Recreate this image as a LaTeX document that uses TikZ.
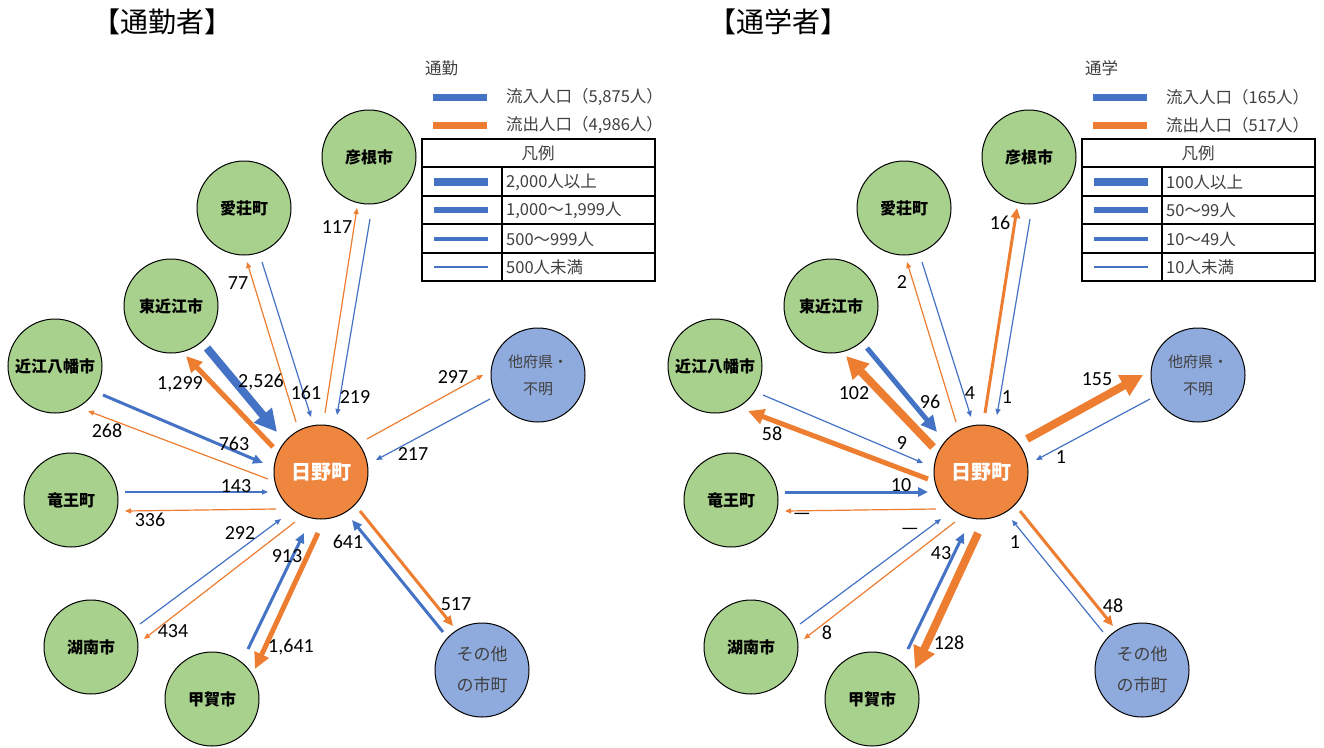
\documentclass[tikz,border=0pt]{standalone}
\usepackage{fontspec}
\setmainfont{Carlito}
\newfontfamily\jp{Noto Sans CJK JP}
\usetikzlibrary{arrows.meta,calc}

\definecolor{inblue}{HTML}{4472C4}
\definecolor{outorange}{HTML}{ED7D31}
\definecolor{towngreen}{HTML}{A9D18E}
\definecolor{farblue}{HTML}{8FAADC}
\definecolor{hinoorange}{HTML}{EF8640}

% circles of one panel, #1 = name prefix
\newcommand\townring[1]{%
  \node[hino] (#1hino) at (321,472) {日野町};
  \node[town] (#1hik) at (369,157) {彦根市};
  \node[town] (#1ais) at (244,208) {愛荘町};
  \node[town] (#1hig) at (171,306) {東近江市};
  \node[town] (#1omi) at (55,366) {近江八幡市};
  \node[town] (#1ryu) at (71,500) {竜王町};
  \node[town] (#1kon) at (91,647) {湖南市};
  \node[town] (#1kok) at (212,699) {甲賀市};
  \node[far, font=\jp\fontsize{17}{31}\selectfont] (#1son) at (482,670) {その他\\の市町};
  \node[far] (#1taf) at (538,375) {他府県・\\不明};
}

% legend of one panel
\newcommand\flowlegend[8]{%
  \node[legtext] (#1title) at (425,68) {#2};
  \draw[inblue, line width=7pt] (433,97) -- (487,97);
  \node[legtext] (#1in) at (506,97) {#3};
  \draw[outorange, line width=7pt] (433,125) -- (487,125);
  \node[legtext] (#1out) at (506,125) {#4};
  \draw[line width=1.2pt] (422,139) rectangle (655,281)
    (422,167) -- (655,167) (422,196) -- (655,196)
    (422,224) -- (655,224) (422,253) -- (655,253) (502,167) -- (502,281);
  \node[legtext, anchor=center] (#1head) at (538,153) {凡例};
  \draw[inblue, line width=7.5pt] (434,182) -- (488,182);
  \node[legtext] (#1r1) at (506,182) {#5};
  \draw[inblue, line width=5.5pt] (434,210) -- (488,210);
  \node[legtext] (#1r2) at (506,210) {#6};
  \draw[inblue, line width=3.3pt] (434,239) -- (488,239);
  \node[legtext] (#1r3) at (506,239) {#7};
  \draw[inblue, line width=1.2pt] (434,267) -- (488,267);
  \node[legtext] (#1r4) at (506,267) {#8};
}

\begin{document}
\begin{tikzpicture}[x=1pt, y=-1pt,
    town/.style = {shape=circle, draw, line width=1pt, fill=towngreen,
      minimum size=94pt, inner sep=0pt,
      font=\jp\bfseries\fontsize{16}{19}\selectfont},
    far/.style = {shape=circle, draw, line width=1pt, fill=farblue,
      minimum size=94pt, inner sep=0pt, align=center, text=black!75,
      font=\jp\fontsize{15}{27}\selectfont},
    hino/.style = {shape=circle, draw, line width=1pt, fill=hinoorange,
      minimum size=94pt, inner sep=0pt, text=white,
      font=\jp\bfseries\fontsize{20}{24}\selectfont},
    num/.style = {text=black, inner sep=0pt, font=\fontsize{20}{24}\selectfont},
    legtext/.style = {anchor=west, inner sep=0pt, text=black!75,
      font=\jp\fontsize{16.5}{19}\selectfont},
    heading/.style = {inner sep=0pt, font=\jp\fontsize{28}{32}\selectfont},
    b1/.style = {inblue, line width=1.2pt, -{Triangle[length=6pt,width=5pt]}},
    b2/.style = {inblue, line width=3pt, -{Triangle[length=10pt,width=9pt]}},
    b3/.style = {inblue, line width=5pt, -{Triangle[length=16pt,width=15pt]}},
    b4/.style = {inblue, line width=8pt, -{Triangle[length=22pt,width=22pt]}},
    o1/.style = {outorange, line width=1.2pt, -{Triangle[length=6pt,width=5pt]}},
    o2/.style = {outorange, line width=3pt, -{Triangle[length=10pt,width=9pt]}},
    o3/.style = {outorange, line width=5pt, -{Triangle[length=16pt,width=15pt]}},
    o4/.style = {outorange, line width=8pt, -{Triangle[length=22pt,width=22pt]}}]
  \useasboundingbox[fill=white] (0,0) rectangle (1324,747);

  \node[heading] (Lheading) at (162,22) {【通勤者】};
  \node[heading] (Rheading) at (778,22) {【通学者】};

  % commuters
  \begin{scope}
    \townring{L}
    \draw[o1] ($(Lhino)+(4,-59)$) -- ($(Lhik)+(-12,51)$) node[num] (Lhik-out) at (337,227) {117};
    \draw[b1] ($(Lhik)+(1,62)$) -- ($(Lhino)+(16,-57)$) node[num] (Lhik-in) at (355,397) {219};
    \draw[o1] ($(Lhino)+(-25,-50)$) -- ($(Lais)+(3,54)$) node[num] (Lais-out) at (238,283) {77};
    \draw[b1] ($(Lais)+(18,54)$) -- ($(Lhino)+(-10,-55)$) node[num] (Lais-in) at (306,393) {161};
    \draw[b4] ($(Lhig)+(36,42)$) -- ($(Lhino)+(-44,-40)$) node[num] (Lhig-in) at (261,382) {2,526};
    \draw[o3] ($(Lhino)+(-48,-25)$) -- ($(Lhig)+(15,50)$) node[num] (Lhig-out) at (180,384) {1,299};
    \draw[b2] ($(Lomi)+(48,29)$) -- ($(Lhino)+(-58,-9)$) node[num] (Lomi-in) at (234,444) {763};
    \draw[o1] ($(Lhino)+(-53,7)$) -- ($(Lomi)+(33,45)$) node[num] (Lomi-out) at (107,431) {268};
    \draw[b1] ($(Lryu)+(54,-8)$) -- ($(Lhino)+(-53,20)$) node[num] (Lryu-in) at (236,486) {143};
    \draw[o1] ($(Lhino)+(-45,37)$) -- ($(Lryu)+(54,11)$) node[num] (Lryu-out) at (150,520) {336};
    \draw[b1] ($(Lkon)+(49,-23)$) -- ($(Lhino)+(-40,47)$) node[num] (Lkon-in) at (240,533) {292};
    \draw[o1] ($(Lhino)+(-26,50)$) -- ($(Lkon)+(53,-8)$) node[num] (Lkon-out) at (173,631) {434};
    \draw[b2] ($(Lkok)+(36,-50)$) -- ($(Lhino)+(-17,61)$) node[num] (Lkok-in) at (287,556) {913};
    \draw[o3] ($(Lhino)+(-3,61)$) -- ($(Lkok)+(43,-30)$) node[num] (Lkok-out) at (291,647) {1,641};
    \draw[b2] ($(Lson)+(-39,-38)$) -- ($(Lhino)+(31,48)$) node[num] (Lson-in) at (348,542) {641};
    \draw[o2] ($(Lhino)+(39,39)$) -- ($(Lson)+(-29,-44)$) node[num] (Lson-out) at (456,604) {517};
    \draw[o1] ($(Lhino)+(46,-33)$) -- ($(Ltaf)+(-55,0)$) node[num] (Ltaf-out) at (453,377) {297};
    \draw[b1] ($(Ltaf)+(-48,24)$) -- ($(Lhino)+(55,-12)$) node[num] (Ltaf-in) at (413,454) {217};
    \flowlegend{L}{通勤}{流入人口（5,875人）}{流出人口（4,986人）}%
      {2,000人以上}{1,000～1,999人}{500～999人}{500人未満}
  \end{scope}

  % students
  \begin{scope}[xshift=660pt]
    \townring{R}
    \draw[o2] ($(Rhino)+(4,-59)$) -- ($(Rhik)+(-12,51)$) node[num] (Rhik-out) at (340,223) {16};
    \draw[b1] ($(Rhik)+(1,62)$) -- ($(Rhino)+(16,-57)$) node[num] (Rhik-in) at (347,397) {1};
    \draw[o1] ($(Rhino)+(-25,-50)$) -- ($(Rais)+(3,54)$) node[num] (Rais-out) at (242,282) {2};
    \draw[b1] ($(Rais)+(18,54)$) -- ($(Rhino)+(-10,-55)$) node[num] (Rais-in) at (310,393) {4};
    \draw[b3] ($(Rhig)+(36,42)$) -- ($(Rhino)+(-44,-40)$) node[num] (Rhig-in) at (270,402) {96};
    \draw[o4] ($(Rhino)+(-48,-25)$) -- ($(Rhig)+(15,50)$) node[num] (Rhig-out) at (194,393) {102};
    \draw[b1] ($(Romi)+(48,29)$) -- ($(Rhino)+(-58,-9)$) node[num] (Romi-in) at (242,443) {9};
    \draw[o3] ($(Rhino)+(-53,7)$) -- ($(Romi)+(33,45)$) node[num] (Romi-out) at (112,434) {58};
    \draw[b2] ($(Rryu)+(54,-8)$) -- ($(Rhino)+(-53,20)$) node[num] (Rryu-in) at (241,485) {10};
    \draw[o1] ($(Rhino)+(-45,37)$) -- ($(Rryu)+(54,11)$) node[num] (Rryu-out) at (142,516) {—};
    \draw[b1] ($(Rkon)+(49,-23)$) -- ($(Rhino)+(-40,47)$) node[num] (Rkon-in) at (250,531) {—};
    \draw[o1] ($(Rhino)+(-26,50)$) -- ($(Rkon)+(53,-8)$) node[num] (Rkon-out) at (167,633) {8};
    \draw[b2] ($(Rkok)+(36,-50)$) -- ($(Rhino)+(-17,61)$) node[num] (Rkok-in) at (281,553) {43};
    \draw[o4] ($(Rhino)+(-3,61)$) -- ($(Rkok)+(43,-30)$) node[num] (Rkok-out) at (289,643) {128};
    \draw[b1] ($(Rson)+(-39,-38)$) -- ($(Rhino)+(31,48)$) node[num] (Rson-in) at (355,542) {1};
    \draw[o2] ($(Rhino)+(39,39)$) -- ($(Rson)+(-29,-44)$) node[num] (Rson-out) at (453,606) {48};
    \draw[o4] ($(Rhino)+(46,-33)$) -- ($(Rtaf)+(-55,0)$) node[num] (Rtaf-out) at (437,379) {155};
    \draw[b1] ($(Rtaf)+(-48,24)$) -- ($(Rhino)+(55,-12)$) node[num] (Rtaf-in) at (401,457) {1};
    \flowlegend{R}{通学}{流入人口（165人）}{流出人口（517人）}%
      {100人以上}{50～99人}{10～49人}{10人未満}
  \end{scope}
\end{tikzpicture}
\end{document}
